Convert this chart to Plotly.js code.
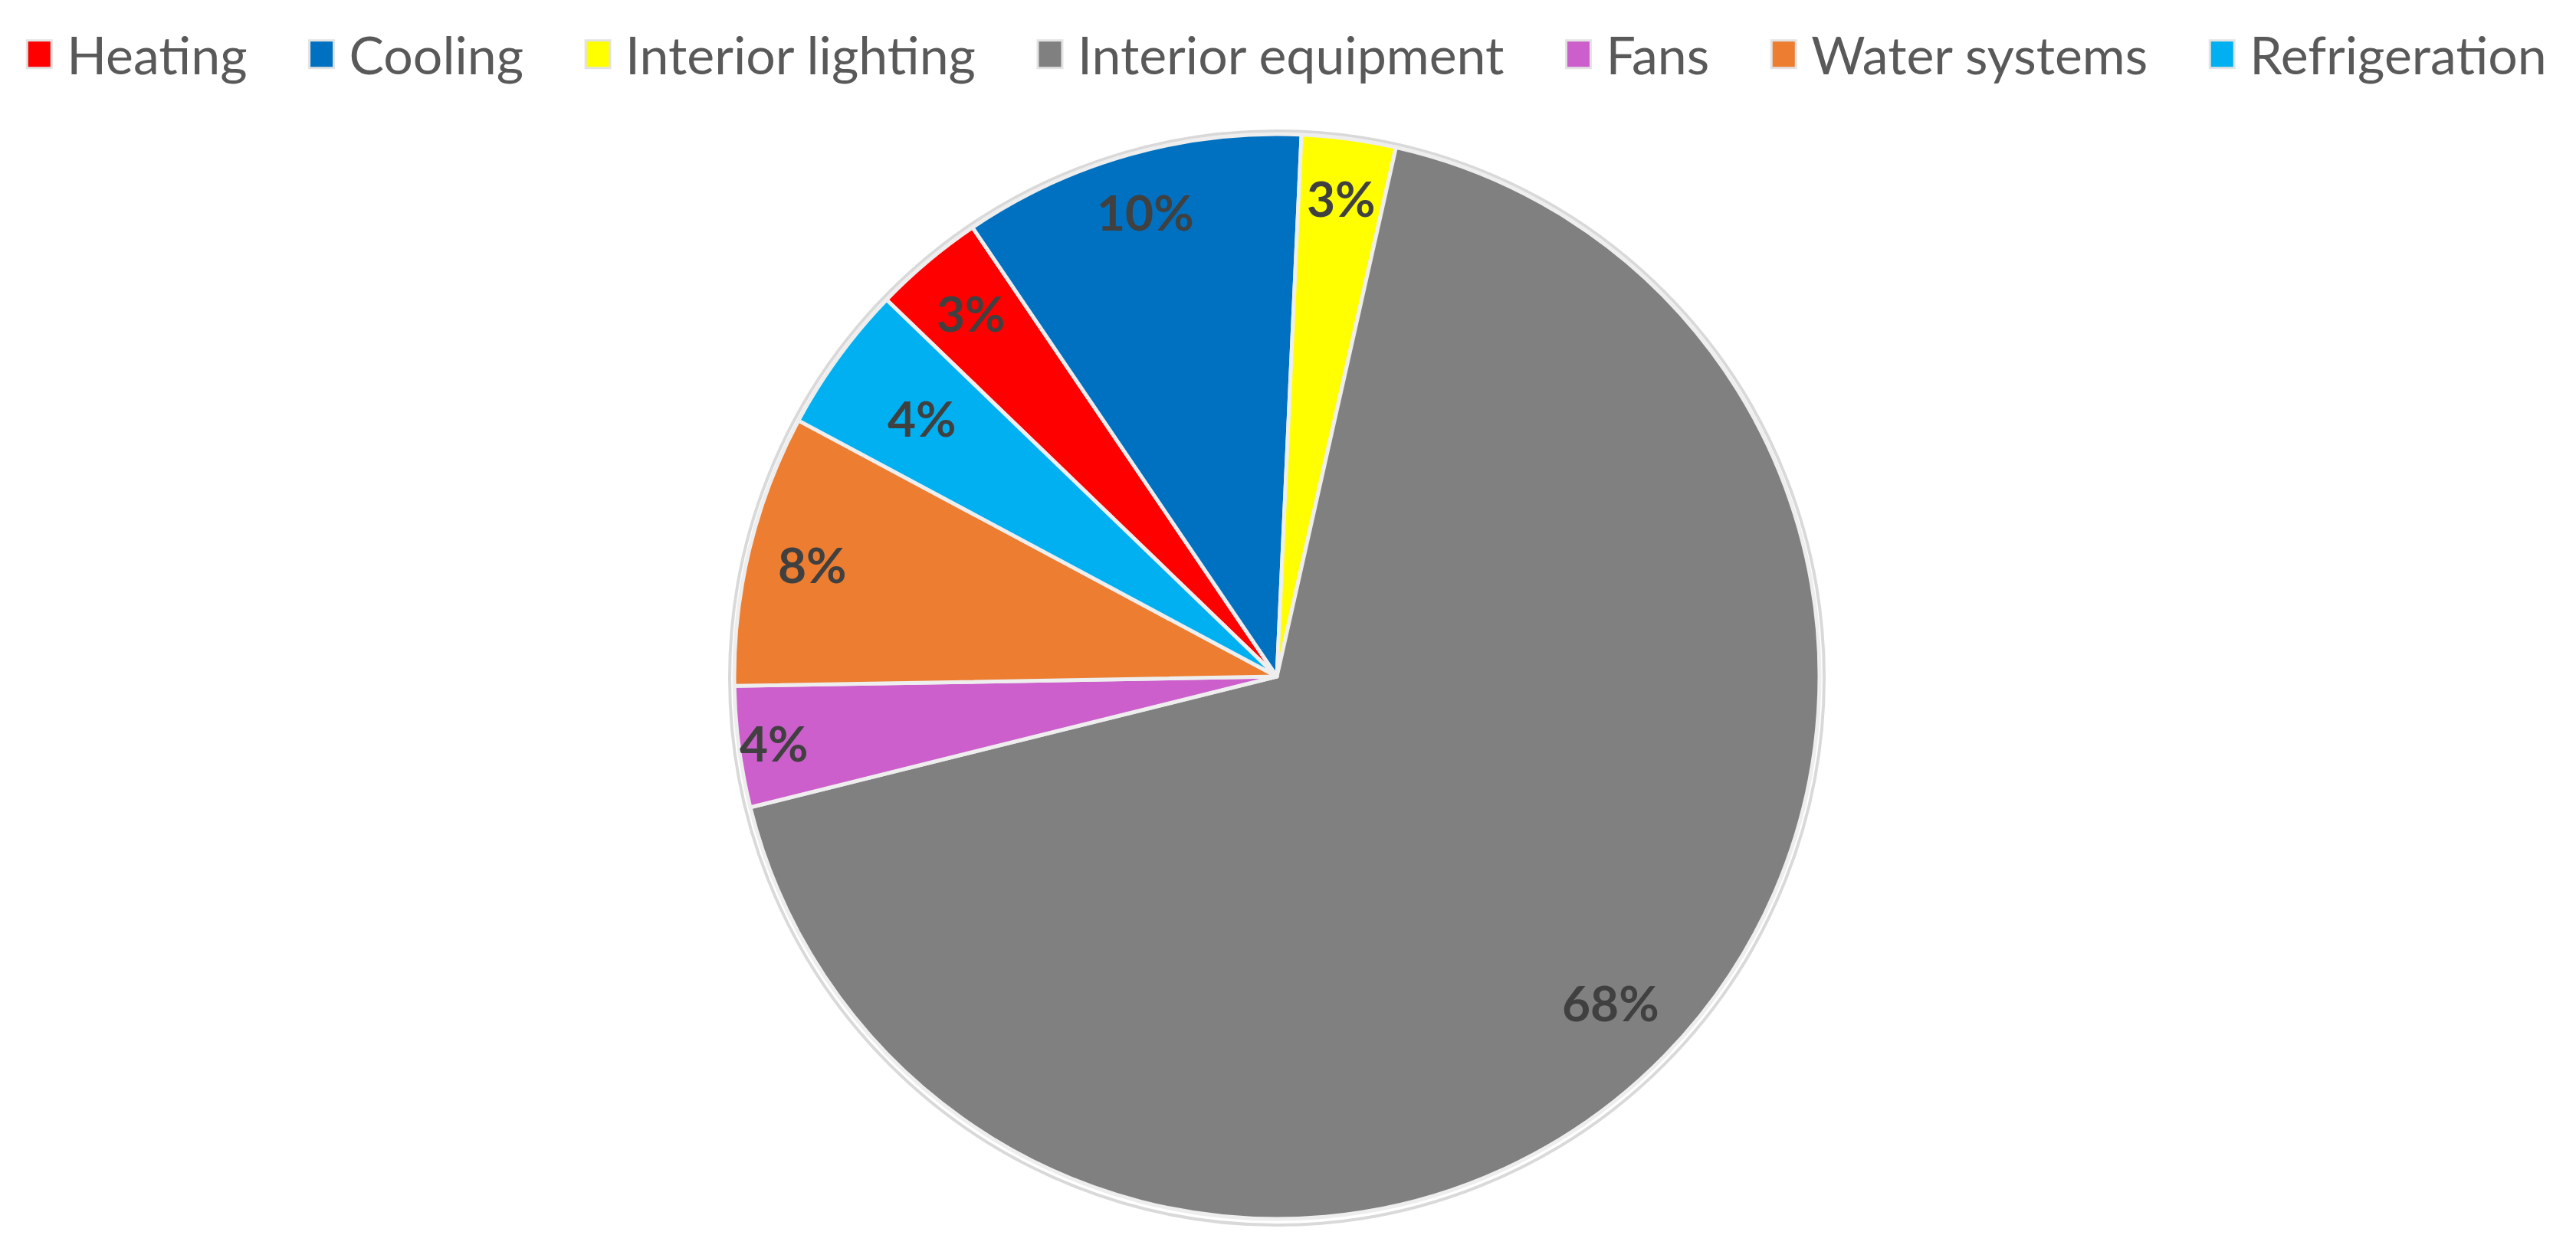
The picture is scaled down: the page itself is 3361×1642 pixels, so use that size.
<!DOCTYPE html>
<html>
<head>
<meta charset="utf-8">
<script src="https://cdn.plot.ly/plotly-3.0.1.min.js"></script>
<style>
  html, body { margin: 0; padding: 0; background: #fff; }
  #chart { width: 3361px; height: 1642px; }
</style>
</head>
<body>
<div id="chart"></div>
<script>
// End-use categories, in legend order
const categories = ["Heating", "Cooling", "Interior lighting", "Interior equipment", "Fans", "Water systems", "Refrigeration"];
// Share of energy use (%)
const shares = [3.3, 10.2, 2.8, 67.6, 3.6, 8.1, 4.4];
const sliceColors = ["#FF0000", "#0070C0", "#FFFF00", "#808080", "#CC5FCB", "#ED7D31", "#00B0F0"];
// where each percentage label sits, as a fraction of the radius (Excel "best fit")
const labelRadius = [0.875, 0.89, 0.89, 0.86, 0.935, 0.88, 0.81];

const W = 3361, H = 1642;
// pie placement (pixels in the reference)
const cx = 1666, cy = 883, R = 708;
const startAngle = -46;
const labelFont = { family: "Lato, 'Open Sans', sans-serif", size: 64, color: "#404040", weight: "bold" };

const trace = {
  type: "pie",
  labels: categories,
  values: shares,
  sort: false,
  direction: "clockwise",
  rotation: startAngle,
  marker: { colors: sliceColors, line: { color: "#EEEEEE", width: 5 } },
  textinfo: "none",
  domain: { x: [(cx - R) / W, (cx + R) / W], y: [1 - (cy + R) / H, 1 - (cy - R) / H] },
  hoverinfo: "label+percent"
};

// percentage labels near the outer end of each slice, like the Excel original
const total = shares.reduce((a, b) => a + b, 0);
let cum = 0;
const labelAnnotations = shares.map(function (v, i) {
  const mid = (startAngle + (cum + v / 2) / total * 360) * Math.PI / 180;
  cum += v;
  const r = labelRadius[i] * R;
  return {
    xref: "paper", yref: "paper",
    x: (cx + r * Math.sin(mid)) / W,
    y: 1 - (cy - r * Math.cos(mid)) / H,
    text: Math.round(v / total * 100) + "%",
    showarrow: false,
    xanchor: "center", yanchor: "middle",
    font: labelFont
  };
});

const layout = {
  width: W,
  height: H,
  margin: { l: 0, r: 0, t: 0, b: 0 },
  paper_bgcolor: "#FFFFFF",
  showlegend: true,
  legend: {
    orientation: "h",
    x: 0.5, xanchor: "center",
    y: 1 - 20 / H, yanchor: "top",
    font: { family: "Lato, 'Open Sans', sans-serif", size: 68, color: "#595959" },
    traceorder: "normal"
  },
  annotations: labelAnnotations,
  shapes: [
    // soft outline around the pie
    { type: "circle", xref: "paper", yref: "paper",
      x0: (cx - R - 6) / W, x1: (cx + R + 6) / W, y0: 1 - (cy + R + 8) / H, y1: 1 - (cy - R - 4) / H,
      line: { color: "#D9D9D9", width: 4 }, fillcolor: "rgba(0,0,0,0)", layer: "below" }
  ]
};

Plotly.newPlot("chart", [trace], layout, { staticPlot: true }).then(function (gd) {
  // Excel-style legend: bigger square keys and wider spacing between entries
  const legend = gd.querySelector("g.legend");
  if (!legend) return;
  const extraGap = 88, textX = 56;
  legend.querySelectorAll("g.traces").forEach(function (item, i) {
    const m = /translate\(([-\d.e]+)[ ,]+([-\d.e]+)\)/.exec(item.getAttribute("transform") || "");
    if (m) item.setAttribute("transform", "translate(" + (parseFloat(m[1]) + i * extraGap) + "," + m[2] + ")");
    const txt = item.querySelector("text.legendtext");
    if (txt) {
      txt.setAttribute("x", textX);
      txt.querySelectorAll("tspan[x]").forEach(t => t.setAttribute("x", textX));
    }
    const sym = item.querySelector("path.legendpie");
    if (sym) {
      sym.setAttribute("d", "M16,18H-16V-18H16Z");
      sym.style.stroke = "#E3E3E3";
      sym.style.strokeWidth = "3px";
    }
  });
  legend.querySelectorAll("[clip-path]").forEach(el => el.removeAttribute("clip-path"));
  const bg = legend.querySelector("rect.bg");
  if (bg) bg.style.display = "none";
  // re-centre on the reference legend span
  const box = legend.querySelector("g.scrollbox").getBoundingClientRect();
  const shift = 1677 - (box.left + box.right) / 2;
  const lm = /translate\(([-\d.e]+)[ ,]+([-\d.e]+)\)/.exec(legend.getAttribute("transform") || "");
  if (lm) legend.setAttribute("transform", "translate(" + (parseFloat(lm[1]) + shift) + "," + lm[2] + ")");
});
</script>
</body>
</html>
